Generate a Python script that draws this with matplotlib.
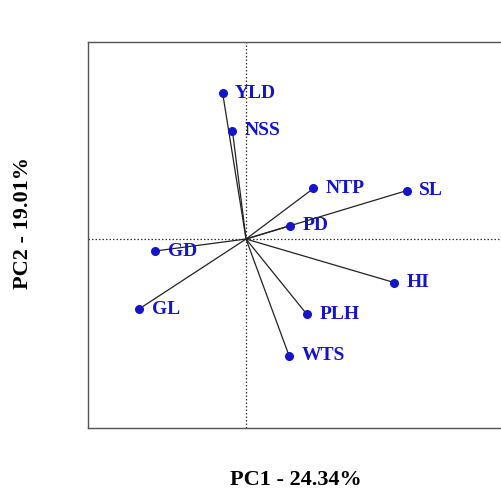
import matplotlib.pyplot as plt

# PCA loadings
variables = ["YLD", "NSS", "NTP", "SL", "PD", "HI", "PLH", "WTS", "GD", "GL"]
pc1 = [-0.117, -0.068, 0.337, 0.803, 0.220, 0.742, 0.303, 0.215, -0.455, -0.535]
pc2 = [0.730, 0.542, 0.253, 0.242, 0.067, -0.218, -0.375, -0.583, -0.060, -0.350]

pc1_label = "PC1 - 24.34%"
pc2_label = "PC2 - 19.01%"

plt.rcParams["font.family"] = ["Liberation Serif", "DejaVu Serif"]

fig = plt.figure(figsize=(5.02, 4.92), dpi=100)
ax = fig.add_axes([0.1753, 0.130, 0.84, 0.7846])

ax.axhline(0, color="#333333", lw=0.9, ls=(0, (1.2, 1.6)), zorder=1)
ax.axvline(0, color="#333333", lw=0.9, ls=(0, (1.2, 1.6)), zorder=1)

for name, x, y in zip(variables, pc1, pc2):
    ax.plot([0, x], [0, y], color="#222222", lw=0.9, zorder=2)
    ax.plot(x, y, "o", color="#1414c8", ms=5.5, zorder=3)
    ax.annotate(name, (x, y), xytext=(9, 0), textcoords="offset points",
                va="center", ha="left", color="#1414c8", fontsize=14,
                fontweight="bold", zorder=4)

ax.set_xlim(-0.79, 1.318)
ax.set_ylim(-0.945, 0.985)
ax.set_xticks([])
ax.set_yticks([])
for s in ax.spines.values():
    s.set_color("#555555")
    s.set_linewidth(1.0)

fig.text(0.59, 0.014, pc1_label, ha="center", va="baseline",
         fontsize=16, fontweight="bold")
fig.text(0.045, 0.547, pc2_label, ha="center", va="center", rotation=90,
         fontsize=16, fontweight="bold")

fig.savefig("out.png", dpi=100)
